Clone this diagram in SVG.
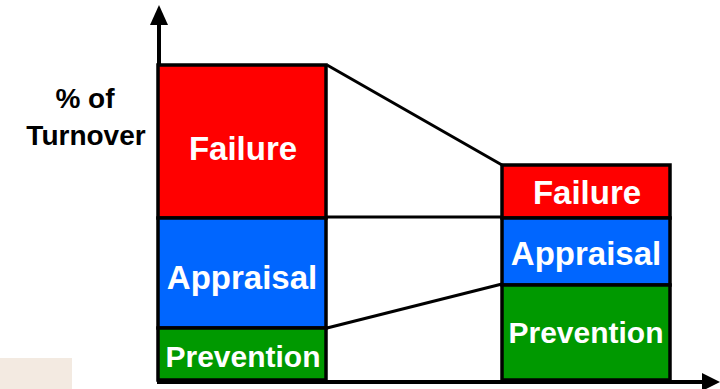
<svg xmlns="http://www.w3.org/2000/svg" width="720" height="389" viewBox="0 0 720 389">
  <style>
    .bar { stroke: #000; stroke-width: 3.5; }
    .fail { fill: #FF0000; }
    .appr { fill: #0066FF; }
    .prev { fill: #009900; }
    .lbl { font-family: "Liberation Sans", Arial, sans-serif; font-weight: bold; fill: #FFFFFF; text-anchor: middle; }
    .axis-title { font-family: "Liberation Sans", Arial, sans-serif; font-weight: bold; fill: #000; text-anchor: middle; font-size: 28px; }
    .link { stroke: #000; stroke-width: 3; fill: none; }
    .axis { stroke: #000; stroke-width: 4; fill: none; }
  </style>

  <rect width="720" height="389" fill="#FFFFFF"/>
  <rect x="0" y="358" width="72" height="31" fill="#F3EAE1"/>

  <!-- axes -->
  <g id="axes">
    <line class="axis" x1="159" y1="22" x2="159" y2="383"/>
    <polygon points="159,5 150,25 168,25" fill="#000"/>
    <line class="axis" x1="157" y1="382" x2="705" y2="382"/>
    <polygon points="720,382 702,373 702,391" fill="#000"/>
  </g>

  <g id="axis-label">
    <text class="axis-title" x="85" y="108">% of</text>
    <text class="axis-title" x="86" y="145">Turnover</text>
  </g>

  <!-- connectors between the two stacked bars -->
  <g id="connectors">
    <line class="link" x1="327" y1="65" x2="502" y2="165"/>
    <line class="link" x1="327" y1="217" x2="502" y2="217"/>
    <line class="link" x1="327" y1="328" x2="502" y2="284"/>
  </g>

  <!-- left bar -->
  <g id="left-failure">
    <rect class="bar fail" x="158" y="65" width="168" height="153"/>
    <text class="lbl" x="243" y="160" font-size="33">Failure</text>
  </g>
  <g id="left-appraisal">
    <rect class="bar appr" x="158" y="218" width="168" height="110"/>
    <text class="lbl" x="242" y="289" font-size="33">Appraisal</text>
  </g>
  <g id="left-prevention">
    <rect class="bar prev" x="158" y="328" width="168" height="52"/>
    <text class="lbl" x="243" y="367" font-size="30">Prevention</text>
  </g>

  <!-- right bar -->
  <g id="right-failure">
    <rect class="bar fail" x="502" y="165" width="168" height="53"/>
    <text class="lbl" x="587" y="204" font-size="33">Failure</text>
  </g>
  <g id="right-appraisal">
    <rect class="bar appr" x="502" y="218" width="168" height="67"/>
    <text class="lbl" x="586" y="265" font-size="33">Appraisal</text>
  </g>
  <g id="right-prevention">
    <rect class="bar prev" x="502" y="285" width="168" height="95"/>
    <text class="lbl" x="586" y="343" font-size="30">Prevention</text>
  </g>
</svg>
